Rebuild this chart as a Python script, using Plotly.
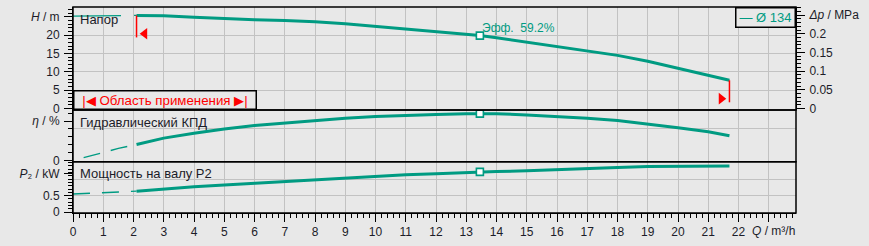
import plotly.graph_objects as go

# ---------------- data ----------------
# extension (outside operating range, thin dashed)
q_ext = [0.0, 0.5, 1.0, 1.5, 2.1]
h_ext = [25.2, 25.2, 25.2, 25.3, 25.4]
eta_ext = [0.5, 5.5, 10.8, 15.5, 20.6]
p_ext = [0.55, 0.575, 0.59, 0.61, 0.635]

# operating range (thick)
q_op = [2.1, 3, 4, 5, 6, 7, 8, 9, 10, 11, 12, 13, 13.45, 14, 15, 16, 17, 18, 19, 20, 21, 21.7]
h_op = [25.4, 25.3, 24.9, 24.5, 24.2, 24.0, 23.7, 23.1, 22.4, 21.7, 20.9, 20.4, 19.9, 19.3,
        18.1, 16.8, 15.5, 14.5, 12.9, 10.9, 8.9, 7.7]
eta_op = [20.6, 28.5, 34.5, 40.0, 44.3, 47.6, 51.0, 53.5, 55.5, 57.0, 58.0, 59.0, 59.2, 59.1,
          57.6, 56.0, 53.5, 50.5, 46.4, 41.4, 36.4, 31.5]
p_op = [0.635, 0.70, 0.77, 0.82, 0.87, 0.93, 0.98, 1.03, 1.09, 1.13, 1.16, 1.20, 1.22, 1.23,
        1.25, 1.29, 1.31, 1.35, 1.38, 1.38, 1.40, 1.40]

q_bep = 13.45
bep_label = "Эфф.  59.2%"
legend_label = "— Ø 134"
range_label = "|◀ Область применения ▶|"

x_ticks = list(range(0, 24))
x_ticktext = [str(v) for v in range(0, 23)] + [""]
h_ticks = [0, 5, 10, 15, 20, 25]
h_ticktext = ["0", "5", "10", "15", "20", "<i>H</i> / m"]
dp_ticks = [0, 0.05, 0.1, 0.15, 0.2, 0.25]
dp_ticktext = ["0", "0.05", "0.1", "0.15", "0.2", "<i>Δp</i> / MPa"]
eta_ticks = [0, 50]
eta_ticktext = ["0", "<i>η</i> / %"]
p_ticks = [0, 0.5, 1.16]
p_ticktext = ["0", "0.5", "<i>P</i>₂ / kW"]

h_grid = [5, 10, 15, 20]
eta_grid = [40]
p_grid = [0.5, 1.0]

RHO_G = 0.00980665  # MPa per m
LIMIT_LEN = 6.0

# ---------------- style ----------------
BG = "#e8e8e8"
GRID = "#c2c2c2"
TEAL = "#009b82"
RED = "#ff0000"
TXT = "#1c1c28"
FONT = "Liberation Sans, Arial, sans-serif"

H_RANGE = [-0.4, 27.7]
ETA_RANGE = [-1.2, 63.8]
P_RANGE = [-0.024, 1.524]
X_RANGE = [0, 23.9]

fig = go.Figure()

def add_curve(qe, ve, qo, vo, yax, dash):
    fig.add_trace(go.Scatter(x=qe, y=ve, yaxis=yax, mode="lines",
                             line=dict(color=TEAL, width=1.3, dash=dash),
                             showlegend=False, hoverinfo="skip"))
    fig.add_trace(go.Scatter(x=qo, y=vo, yaxis=yax, mode="lines",
                             line=dict(color=TEAL, width=3),
                             showlegend=False, hoverinfo="skip"))
    i = qo.index(q_bep)
    fig.add_trace(go.Scatter(x=[qo[i]], y=[vo[i]], yaxis=yax, mode="markers",
                             marker=dict(symbol="square", size=7, color="white",
                                         line=dict(color=TEAL, width=1.6)),
                             showlegend=False, hoverinfo="skip"))

add_curve(q_ext, h_ext, q_op, h_op, "y", "48px,13px")
add_curve(q_ext, eta_ext, q_op, eta_op, "y2", "0px,11px,17px,0px")
add_curve(q_ext, p_ext, q_op, p_op, "y3", "17px,12px")

# operating-range limit markers
q_lo, h_lo = q_op[0], h_op[0]
q_hi, h_hi = q_op[-1], h_op[-1]
for qv, hv, sym, off in [(q_lo, h_lo, "triangle-left", 0.27), (q_hi, h_hi, "triangle-right", -0.27)]:
    fig.add_trace(go.Scatter(x=[qv, qv], y=[hv, hv - LIMIT_LEN], yaxis="y", mode="lines",
                             line=dict(color=RED, width=1.5), showlegend=False, hoverinfo="skip"))
    fig.add_trace(go.Scatter(x=[qv + off], y=[hv - LIMIT_LEN + 1.0], yaxis="y", mode="markers",
                             marker=dict(symbol=sym, size=10, color=RED),
                             showlegend=False, hoverinfo="skip"))

# dummy traces so the overlay label axes are drawn
for ya in ["y4", "y5", "y6", "y7"]:
    fig.add_trace(go.Scatter(x=[None], y=[None], yaxis=ya, showlegend=False, hoverinfo="skip"))

top_dom = [0.5, 1.0]
mid_dom = [0.2486, 0.5]
bot_dom = [0.0, 0.2486]

tickfont = dict(family=FONT, size=12, color=TXT)

grid_axis = dict(showgrid=True, gridcolor=GRID, gridwidth=1, ticks="", showticklabels=False,
                 zeroline=False, tickmode="array", anchor="x")

label_axis = dict(showgrid=False, zeroline=False, tickmode="array", ticks="outside",
                  ticklen=8, tickwidth=1, tickcolor="black", showline=True, linecolor="black",
                  linewidth=1, tickfont=tickfont, anchor="x", ticklabelstandoff=2)

fig.update_layout(
    width=869, height=246,
    margin=dict(l=73, r=73, t=7, b=31, pad=0),
    paper_bgcolor=BG, plot_bgcolor=BG,
    font=dict(family=FONT, size=12, color=TXT),
    xaxis=dict(range=X_RANGE, domain=[0, 1], anchor="y3", tickmode="array",
               tickvals=x_ticks, ticktext=x_ticktext, ticks="outside", ticklen=8,
               tickcolor="black", showgrid=True, gridcolor=GRID, zeroline=False,
               showline=True, linecolor="black", tickfont=tickfont,
               minor=dict(tickmode="linear", tick0=0, dtick=0.2, ticks="outside",
                          ticklen=4, tickcolor="black", showgrid=False)),
    yaxis=dict(domain=top_dom, range=H_RANGE, tickvals=h_grid, **grid_axis),
    yaxis2=dict(domain=mid_dom, range=ETA_RANGE, tickvals=eta_grid, **grid_axis),
    yaxis3=dict(domain=bot_dom, range=P_RANGE, tickvals=p_grid, **grid_axis),
    yaxis4=dict(overlaying="y", side="left", range=H_RANGE, tickvals=h_ticks,
                ticktext=h_ticktext,
                minor=dict(tickmode="linear", tick0=0, dtick=1, ticks="outside", ticklen=4,
                           tickcolor="black", showgrid=False),
                **label_axis),
    yaxis5=dict(overlaying="y2", side="left", range=ETA_RANGE, tickvals=eta_ticks,
                ticktext=eta_ticktext,
                minor=dict(tickmode="linear", tick0=0, dtick=10, ticks="outside", ticklen=4,
                           tickcolor="black", showgrid=False),
                **label_axis),
    yaxis6=dict(overlaying="y3", side="left", range=P_RANGE, tickvals=p_ticks,
                ticktext=p_ticktext,
                minor=dict(tickmode="linear", tick0=0, dtick=0.1, ticks="outside", ticklen=4,
                           tickcolor="black", showgrid=False),
                **label_axis),
    yaxis7=dict(overlaying="y", side="right", range=[v * RHO_G for v in H_RANGE],
                tickvals=dp_ticks, ticktext=dp_ticktext,
                minor=dict(tickmode="linear", tick0=0, dtick=0.01, ticks="outside", ticklen=4,
                           tickcolor="black", showgrid=False),
                **label_axis),
)

# panel borders
for yref in ["y", "y2", "y3"]:
    fig.add_shape(type="rect", xref="x domain", yref=f"{yref} domain", x0=0, x1=1, y0=0, y1=1,
                  line=dict(color="black", width=1.5), layer="above")

# panel titles
for yref, txt in [("y", "Напор"), ("y2", "Гидравлический КПД"), ("y3", "Мощность на валу P2")]:
    fig.add_annotation(xref="x domain", yref=f"{yref} domain", x=0, y=1, xanchor="left",
                       yanchor="middle", xshift=5, yshift=-12, text=txt, showarrow=False,
                       font=dict(family=FONT, size=13, color=TXT))

# BEP label
i_bep = q_op.index(q_bep)
fig.add_annotation(x=q_bep, y=h_op[i_bep], yref="y", xanchor="left", yanchor="middle",
                   xshift=0, yshift=8, text=bep_label, showarrow=False,
                   font=dict(family=FONT, size=12, color=TEAL))

# legend-like box
fig.add_annotation(xref="x domain", yref="y domain", x=1, y=1, xanchor="right", yanchor="top",
                   text=legend_label, showarrow=False, width=58, height=18,
                   bordercolor="black", borderwidth=1.5, borderpad=0, bgcolor=BG,
                   font=dict(family=FONT, size=13, color=TEAL))

# operating range box
fig.add_annotation(xref="x domain", yref="y domain", x=0, y=0, xanchor="left", yanchor="bottom",
                   text=range_label, showarrow=False, width=181, height=17,
                   bordercolor="black", borderwidth=1.5, borderpad=0, bgcolor=BG,
                   font=dict(family=FONT, size=13.3, color=RED))

# Q axis label
fig.add_annotation(x=23, xref="x", y=0, yref="paper", xanchor="center", yanchor="middle",
                   xshift=5, yshift=-18, text="<i>Q</i> / m³/h", showarrow=False,
                   font=dict(family=FONT, size=12, color=TXT))

fig.write_html("out.html")
